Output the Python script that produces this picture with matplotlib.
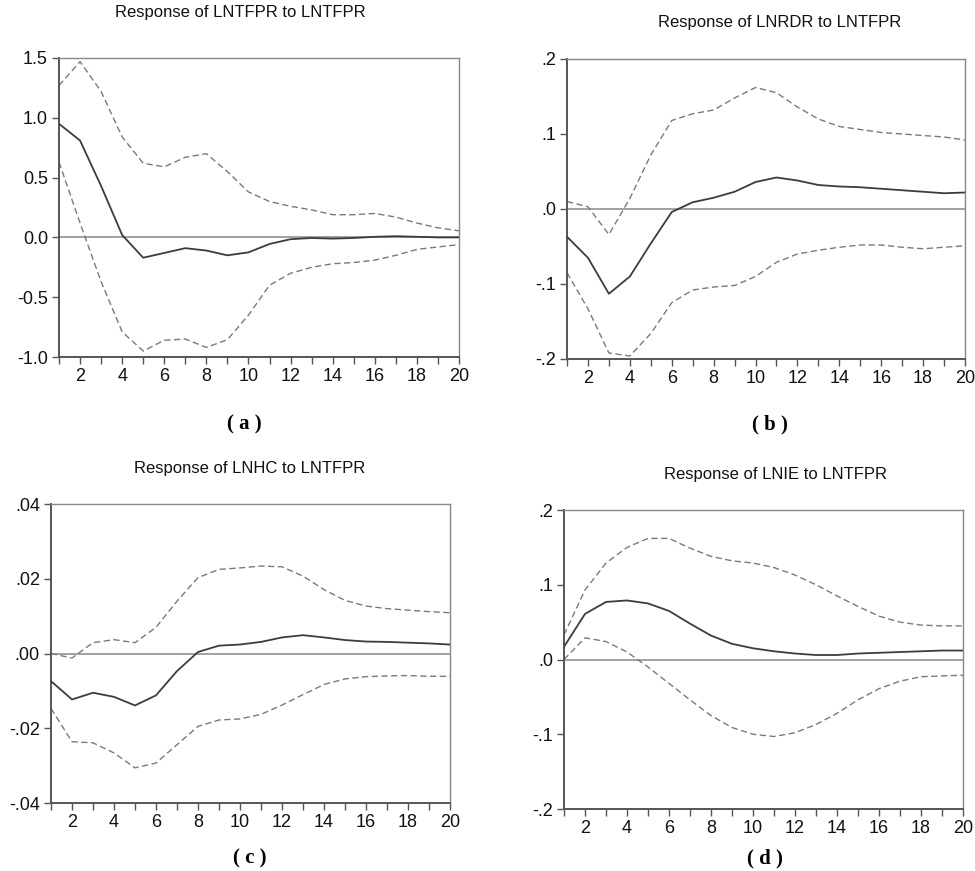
import numpy as np
from matplotlib import pyplot as plt

periods = np.arange(1, 21)

# panel a - response of LNTFPR
a_resp = [0.95, 0.81, 0.43, 0.02, -0.17, -0.13, -0.09, -0.11, -0.15, -0.125,
          -0.055, -0.015, -0.005, -0.01, -0.005, 0.005, 0.01, 0.005, 0.0, 0.0]
a_up = [1.27, 1.47, 1.22, 0.84, 0.62, 0.59, 0.67, 0.70, 0.55, 0.38,
        0.30, 0.26, 0.23, 0.19, 0.19, 0.20, 0.17, 0.12, 0.08, 0.055]
a_lo = [0.63, 0.12, -0.37, -0.79, -0.95, -0.86, -0.85, -0.92, -0.855, -0.65,
        -0.40, -0.30, -0.25, -0.22, -0.21, -0.19, -0.15, -0.10, -0.08, -0.06]

# panel b - response of LNRDR
b_resp = [-0.037, -0.065, -0.113, -0.090, -0.046, -0.004, 0.009, 0.015, 0.023, 0.036,
          0.042, 0.038, 0.032, 0.030, 0.029, 0.027, 0.025, 0.023, 0.021, 0.022]
b_up = [0.010, 0.003, -0.034, 0.014, 0.072, 0.118, 0.127, 0.132, 0.148, 0.162,
        0.155, 0.136, 0.120, 0.110, 0.106, 0.102, 0.100, 0.098, 0.096, 0.092]
b_lo = [-0.085, -0.133, -0.192, -0.196, -0.166, -0.125, -0.108, -0.104, -0.102, -0.090,
        -0.071, -0.060, -0.055, -0.051, -0.048, -0.048, -0.051, -0.053, -0.051, -0.049]

# panel c - response of LNHC
c_resp = [-0.0074, -0.0123, -0.0105, -0.0116, -0.0139, -0.0112, -0.0047, 0.0004, 0.0021, 0.0024,
          0.0031, 0.0043, 0.0049, 0.0043, 0.0036, 0.0032, 0.0031, 0.0029, 0.0027, 0.0024]
c_up = [0.0, -0.0012, 0.0029, 0.0037, 0.0029, 0.0070, 0.0140, 0.0203, 0.0225, 0.0229,
        0.0234, 0.0232, 0.0207, 0.0171, 0.0142, 0.0127, 0.0120, 0.0116, 0.0112, 0.0109]
c_lo = [-0.0147, -0.0236, -0.0239, -0.0266, -0.0306, -0.0293, -0.0244, -0.0195, -0.0178, -0.0175,
        -0.0163, -0.0138, -0.0110, -0.0083, -0.0068, -0.0062, -0.0060, -0.0059, -0.0061, -0.0061]

# panel d - response of LNIE
d_resp = [0.017, 0.061, 0.077, 0.079, 0.075, 0.065, 0.048, 0.032, 0.021, 0.015,
          0.011, 0.008, 0.006, 0.006, 0.008, 0.009, 0.010, 0.011, 0.012, 0.012]
d_up = [0.033, 0.093, 0.129, 0.150, 0.162, 0.162, 0.149, 0.138, 0.132, 0.129,
        0.123, 0.113, 0.100, 0.085, 0.071, 0.058, 0.050, 0.046, 0.045, 0.045]
d_lo = [0.0, 0.029, 0.024, 0.010, -0.010, -0.032, -0.054, -0.075, -0.091, -0.100,
        -0.103, -0.098, -0.087, -0.072, -0.054, -0.039, -0.029, -0.023, -0.022, -0.021]

titles = ['Response of LNTFPR to LNTFPR', 'Response of LNRDR to LNTFPR',
          'Response of LNHC to LNTFPR', 'Response of LNIE to LNTFPR']
captions = ['( a )', '( b )', '( c )', '( d )']
y_ticks = [[-1.0, -0.5, 0.0, 0.5, 1.0, 1.5],
           [-0.2, -0.1, 0.0, 0.1, 0.2],
           [-0.04, -0.02, 0.0, 0.02, 0.04],
           [-0.2, -0.1, 0.0, 0.1, 0.2]]
y_labels = [['-1.0', '-0.5', '0.0', '0.5', '1.0', '1.5'],
            ['-.2', '-.1', '.0', '.1', '.2'],
            ['-.04', '-.02', '.00', '.02', '.04'],
            ['-.2', '-.1', '.0', '.1', '.2']]
series = [(a_resp, a_up, a_lo), (b_resp, b_up, b_lo),
          (c_resp, c_up, c_lo), (d_resp, d_up, d_lo)]

W, H = 975, 871
# axes boxes in pixels: left, top, right, bottom
boxes = [(59, 58, 459, 357), (567, 59, 965, 359),
         (51, 504, 450, 803), (564, 510, 963, 809)]
title_pos = [(240, 12), (780, 22), (250, 468), (775, 475)]
cap_pos = [(244, 424), (770, 424), (250, 858), (765, 858)]

plt.rcParams['font.family'] = ['Liberation Sans', 'DejaVu Sans']
fig = plt.figure(figsize=(W / 100, H / 100), dpi=100)

for i in range(4):
    l, t, r, b = boxes[i]
    ax = fig.add_axes([l / W, 1 - b / H, (r - l) / W, (b - t) / H])
    resp, up, lo = series[i]
    ax.axhline(0, color='#9a9a9a', lw=1.3, zorder=1)
    ax.plot(periods, resp, color='#3c3c3c', lw=1.3, zorder=3)
    ax.plot(periods, up, color='#7a7a7a', lw=1.0, ls=(0, (4.5, 2.5)), zorder=2)
    ax.plot(periods, lo, color='#7a7a7a', lw=1.0, ls=(0, (4.5, 2.5)), zorder=2)
    ax.set_xlim(1, 20)
    ax.set_ylim(y_ticks[i][0], y_ticks[i][-1])
    ax.set_xticks(periods)
    ax.set_xticklabels([str(p) if p % 2 == 0 else '' for p in periods])
    ax.set_yticks(y_ticks[i])
    ax.set_yticklabels(y_labels[i])
    ax.tick_params(direction='out', length=5, width=1, colors='#555555',
                   labelcolor='#111111', labelsize=13, pad=3)
    for side in ['left', 'bottom']:
        ax.spines[side].set_color('#555555')
        ax.spines[side].set_linewidth(1.4)
    for side in ['top', 'right']:
        ax.spines[side].set_color('#888888')
        ax.spines[side].set_linewidth(1.0)
    tx, ty = title_pos[i]
    fig.text(tx / W, 1 - ty / H, titles[i], ha='center', va='center',
             fontsize=12, color='#111111')
    cx, cy = cap_pos[i]
    fig.text(cx / W, 1 - cy / H, captions[i], ha='center', va='center',
             fontsize=15, fontweight='bold', family='Liberation Serif')

fig.savefig('out.png', dpi=100)
